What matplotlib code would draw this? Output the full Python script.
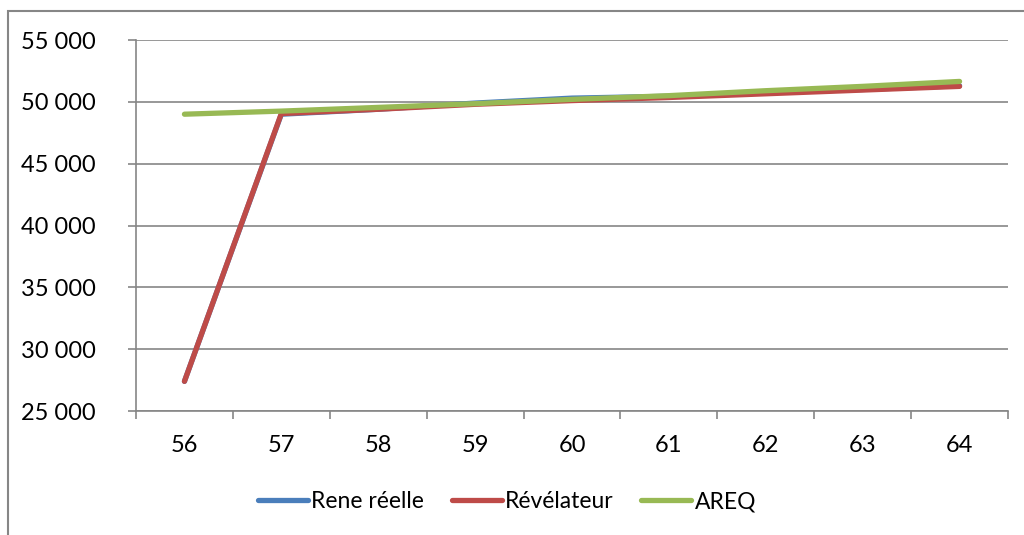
import numpy as np
import matplotlib.pyplot as plt
from matplotlib.patches import Rectangle

plt.rcParams['font.family'] = ['Lato', 'DejaVu Sans']

ages = [56, 57, 58, 59, 60, 61, 62, 63, 64]
rene_reelle = [27400, 49000, 49400, 49900, 50300, 50450, 50750, 51000, 51300]
revelateur = [27400, 49050, 49400, 49800, 50100, 50350, 50650, 50950, 51250]
areq = [49000, 49250, 49550, 49850, 50200, 50500, 50900, 51250, 51650]

series = [("Rene réelle", rene_reelle, "#4a7ebb"),
          ("Révélateur", revelateur, "#be4b48"),
          ("AREQ", areq, "#98b954")]

fig = plt.figure(figsize=(10.24, 5.35), dpi=100)
ax = fig.add_axes([136 / 1024, 1 - 411 / 535, (1008 - 136) / 1024, (411 - 40) / 535])

x = np.arange(len(ages))
for name, vals, col in series:
    ax.plot(x, vals, color=col, lw=3.8, solid_capstyle='round', label=name)

ax.set_xlim(-0.5, len(ages) - 0.5)
ax.set_ylim(25000, 55000)
ax.set_yticks(np.arange(25000, 55001, 5000))
ax.set_yticklabels([f"{v // 1000} 000" for v in range(25000, 55001, 5000)])
ax.set_xticks(x)
ax.set_xticklabels([str(a) for a in ages])
ax.set_xticks(np.arange(-0.5, len(ages), 1), minor=True)

grid_col = "#868686"
ax.yaxis.grid(True, color=grid_col, lw=1.2)
ax.set_axisbelow(True)
for s in ["top", "right"]:
    ax.spines[s].set_visible(False)
for s in ["left", "bottom"]:
    ax.spines[s].set_color(grid_col)
    ax.spines[s].set_linewidth(1.2)

ax.tick_params(axis='y', which='major', length=6, color=grid_col, width=1.2,
               labelsize=17, pad=23)
ax.tick_params(axis='x', which='major', length=0, labelsize=17, pad=17)
ax.tick_params(axis='x', which='minor', length=6, color=grid_col, width=1.2)

fig.legend(loc='center', bbox_to_anchor=(0.495, 1 - 502 / 535), ncol=3,
           frameon=False, fontsize=16.5, handlelength=2.2, handletextpad=0.13,
           columnspacing=1.2)

fig.patches.append(Rectangle((8 / 1024, -0.1), 1.2, 1 - 11 / 535 + 0.1,
                             transform=fig.transFigure, fill=False,
                             edgecolor=grid_col, lw=1.5))

fig.savefig("out.png", dpi=100)
